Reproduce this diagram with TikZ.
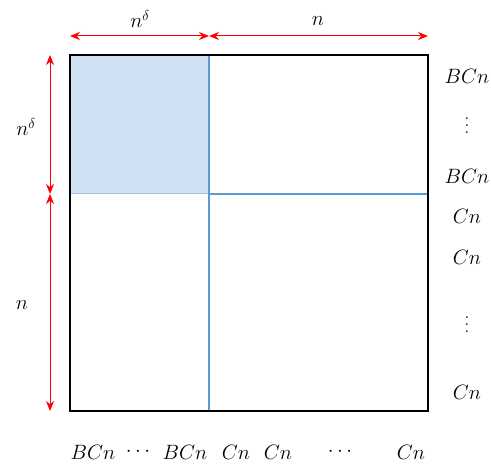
\documentclass[tikz,border=0pt]{standalone}
\usetikzlibrary{arrows.meta}
\definecolor{blueline}{HTML}{5B9BD5}
\definecolor{bluefill}{HTML}{CFE1F2}
\definecolor{blueedge}{HTML}{9DC3E6}
\newcommand\myvdots{\vbox{\baselineskip7pt\lineskiplimit0pt\hbox{.}\hbox{.}\hbox{.}}}
\begin{document}
\begin{tikzpicture}[x=1pt,y=-1pt,
  lbl/.style={inner sep=0pt,font=\huge},
  dim/.style={red,line width=1pt,{Stealth[length=10pt,width=8pt]}-{Stealth[length=10pt,width=8pt]}},
  blu/.style={blueline,line width=2pt}]
\useasboundingbox (0,0) rectangle (491,468);
\coordinate (tl) at (70,55);
\coordinate (br) at (428,411);
\coordinate (m) at (209,194);
\fill[bluefill,draw=blueedge,line width=1pt] (tl) rectangle (m);
\draw[blu] (209,55) -- (209,411);
\draw[blu] (209,194) -- (428,194);
\draw[line width=2pt,black] (tl) rectangle (br);
% top dims
\coordinate (ta) at (70,36);
\coordinate (tb) at (209,36);
\coordinate (tc) at (428,36);
\draw[dim] (ta) -- (tb);
\draw[dim] (tb) -- (tc);
\node[lbl] (tn1) at (140,19) {$n^{\delta}$};
\node[lbl] (tn2) at (318,21) {$n$};
% left dims
\coordinate (la) at (50,55);
\coordinate (lb) at (50,194);
\coordinate (lc) at (50,411);
\draw[dim] (la) -- (lb);
\draw[dim] (lb) -- (lc);
\node[lbl] (ln1) at (26,127) {$n^{\delta}$};
\node[lbl] (ln2) at (22,305) {$n$};
% right labels
\node[lbl] (r1) at (467,76) {$BCn$};
\node[lbl] (r2) at (467,126) {\myvdots};
\node[lbl] (r3) at (467,176) {$BCn$};
\node[lbl] (r4) at (467,216) {$Cn$};
\node[lbl] (r5) at (467,257) {$Cn$};
\node[lbl] (r6) at (467,325) {\myvdots};
\node[lbl] (r7) at (467,392) {$Cn$};
% bottom labels
\node[lbl] (b1) at (93,452) {$BCn$};
\node[lbl] (b2) at (138,452) {$\cdots$};
\node[lbl] (b3) at (185,452) {$BCn$};
\node[lbl] (b4) at (236,452) {$Cn$};
\node[lbl] (b5) at (278,452) {$Cn$};
\node[lbl] (b6) at (340,452) {$\cdots$};
\node[lbl] (b7) at (411,452) {$Cn$};
\end{tikzpicture}
\end{document}
